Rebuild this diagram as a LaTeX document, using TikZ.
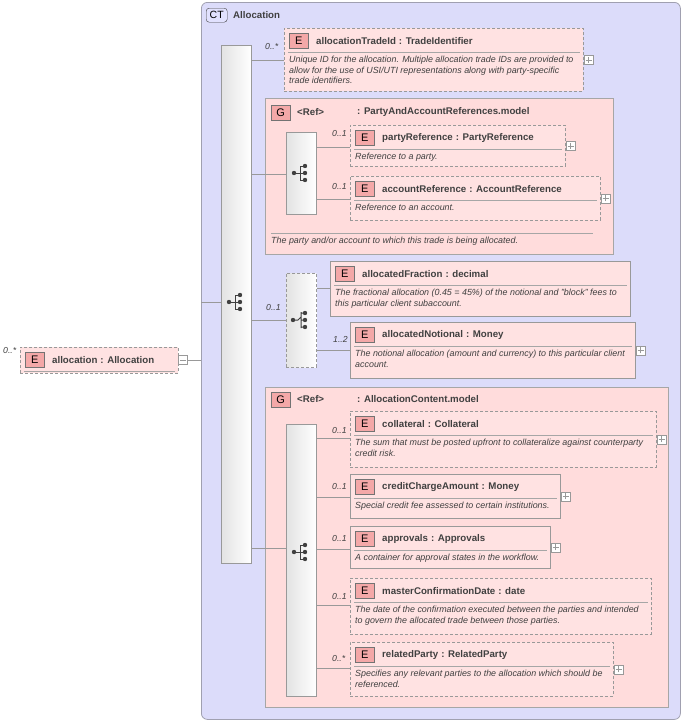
\documentclass[tikz,border=0pt]{standalone}
\usepackage{fontspec}
\setmainfont{Liberation Sans}
\begin{document}
\definecolor{ctfill}{HTML}{DCDCFA}
\definecolor{ctline}{HTML}{A0A0B0}
\definecolor{pinkf}{HTML}{FFE2E2}
\definecolor{grpf}{HTML}{FFDCDC}
\definecolor{badge}{HTML}{F4A8A8}
\definecolor{dgray}{HTML}{404040}
\tikzset{
 elbox/.style={draw=gray!80,fill=pinkf,inner sep=0pt,line width=0.7pt},
 dsh/.style={dashed,dash pattern=on 3pt off 2pt},
 sld/.style={},
 ebadge/.style={draw=gray!90!black,fill=badge,minimum width=19pt,minimum height=15pt,inner sep=0pt,font=\fontsize{11}{11}\selectfont},
 title/.style={font=\fontsize{9.7}{11}\selectfont\bfseries,text=dgray,inner sep=0pt},
 desc/.style={font=\fontsize{8.9}{10.5}\selectfont\itshape,text=dgray,inner sep=0pt,align=left},
 sep/.style={draw=gray!70,line width=0.5pt},
 conn/.style={draw=gray!80,line width=0.6pt},
 card/.style={font=\fontsize{8.7}{9}\selectfont\itshape,text=dgray,inner sep=0pt},
 bar/.style={draw=gray!80,left color=gray!22,right color=white,inner sep=0pt,line width=0.6pt},
 pm/.style={draw=gray!80,fill=white,minimum size=9pt,inner sep=0pt,line width=0.5pt},
}
\newcommand\elm[8]{%
 \node[elbox,#6,minimum width=#4pt,minimum height=#5pt,anchor=north west] (#1) at (#2,#3) {};
 \node[ebadge,anchor=north west] at ([xshift=5pt,yshift=-5pt]#1.north west) {E};
 \node[title,anchor=west] at ([xshift=32pt,yshift=-13pt]#1.north west) {#7};
 \draw[sep] ([xshift=4pt,yshift=-24pt]#1.north west) -- ([xshift=-4pt,yshift=-24pt]#1.north east);
 \node[desc,anchor=north west] at ([xshift=5pt,yshift=-28pt]#1.north west) {#8};}
\newcommand\plusbox[1]{\node[pm] (#1p) at ([xshift=5pt]#1.east) {};
 \draw[gray!80,line width=0.5pt] ([xshift=-3pt]#1p.center)--([xshift=3pt]#1p.center) ([yshift=-3pt]#1p.center)--([yshift=3pt]#1p.center);}
\newcommand\seqicon[1]{\begin{scope}[shift={(#1)},dgray]
 \fill (-7,0) circle (2.2pt); \draw[line width=1pt] (-7,0)--(-1,0) (-1,-7)--(-1,7) (-1,-7)--(4,-7) (-1,0)--(4,0) (-1,7)--(4,7);
 \fill (4,-7) circle (2.2pt) (4,0) circle (2.2pt) (4,7) circle (2.2pt);\end{scope}}
\newcommand\choiceicon[1]{\begin{scope}[shift={(#1)},dgray]
 \fill (-8,0) circle (2.2pt); \draw[line width=1pt] (-8,0)--(-3,0) (-3,0)--(0,-3) (0,-8)--(0,8) (0,-7)--(4,-7) (0,0)--(4,0) (0,7)--(4,7);
 \fill (4,-7) circle (2.2pt) (4,0) circle (2.2pt) (4,7) circle (2.2pt);\end{scope}}
\begin{tikzpicture}[x=1pt,y=-1pt]
\useasboundingbox (0,0) rectangle (684,723);
\node[draw=ctline,fill=ctfill,rounded corners=6pt,minimum width=479pt,minimum height=717pt,anchor=north west,line width=0.8pt] (ct) at (201,2) {};
\node[draw=dgray,fill=ctfill!70!blue!30,rounded corners=3pt,minimum width=21pt,minimum height=14pt,inner sep=0pt,anchor=north west,font=\fontsize{10.5}{11}\selectfont] (ctb) at (206,8) {CT};
\node[title,anchor=west] (ctt) at (233,15) {Allocation};
\node[card,anchor=west] (rc) at (3,350) {0..*};
\elm{root}{20}{347}{158}{26}{dsh}{allocation\hspace{3pt}: Allocation}{}
\node[pm] (rootm) at (183,360) {};
\draw[gray!80,line width=0.5pt] (180,360)--(186,360);
\draw[conn] (rootm.east) -- (ct.west|-rootm);
\node[bar,minimum width=30pt,minimum height=518pt,anchor=north west] (ms) at (221,45) {};
\seqicon{236,302}
\coordinate (msl) at (201,302);
\draw[conn] (msl) -- (ms.west|-msl);
\elm{e1}{284}{28}{299}{63}{dsh}{allocationTradeId\hspace{3pt}: TradeIdentifier}{Unique ID for the allocation. Multiple allocation trade IDs are provided to\\allow for the use of USI/UTI representations along with party-specific\\trade identifiers.}
\plusbox{e1}
\draw[conn] (ms.east|-0,60) -- (e1.west|-0,60);
\node[card,anchor=west] at (265,47) {0..*};
\node[draw=gray!70,fill=grpf,minimum width=348pt,minimum height=156pt,anchor=north west,inner sep=0pt] (g1) at (265,98) {};
\node[ebadge,anchor=north west] (g1b) at (271,105) {G};
\node[title,anchor=west] at (297,112) {<Ref>};
\node[title,anchor=west] at (357,112) {: PartyAndAccountReferences.model};
\draw[conn] (ms.east|-0,174) -- (g1.west|-0,174);
\node[bar,minimum width=30pt,minimum height=82pt,anchor=north west] (s1) at (286,132) {};
\seqicon{301,173}
\draw[conn] (g1.west|-0,174) -- (s1.west|-0,174);
\elm{e2}{350}{125}{215}{41}{dsh}{partyReference\hspace{3pt}: PartyReference}{Reference to a party.}
\plusbox{e2}
\draw[conn] (s1.east|-0,147) -- (e2.west|-0,147);
\node[card,anchor=west] at (332,134) {0..1};
\elm{e3}{350}{176}{250}{44}{dsh}{accountReference\hspace{3pt}: AccountReference}{Reference to an account.}
\plusbox{e3}
\draw[conn] (s1.east|-0,199) -- (e3.west|-0,199);
\node[card,anchor=west] at (332,187) {0..1};
\draw[sep] (271,233) -- (593,233);
\node[desc,anchor=west] at (271,241) {The party and/or account to which this trade is being allocated.};
\node[bar,dsh,minimum width=30pt,minimum height=94pt,anchor=north west] (ch) at (286,273) {};
\choiceicon{301,320}
\draw[conn] (ms.east|-0,320) -- (ch.west|-0,320);
\node[card,anchor=west] at (266,308) {0..1};
\elm{e4}{330}{261}{300}{55}{sld}{allocatedFraction\hspace{3pt}: decimal}{The fractional allocation (0.45 = 45\%) of the notional and "block" fees to\\this particular client subaccount.}
\draw[conn] (ch.east|-0,288) -- (e4.west|-0,288);
\elm{e5}{350}{322}{285}{56}{sld}{allocatedNotional\hspace{3pt}: Money}{The notional allocation (amount and currency) to this particular client\\account.}
\plusbox{e5}
\draw[conn] (ch.east|-0,350) -- (e5.west|-0,350);
\node[card,anchor=west] at (333,339) {1..2};
\node[draw=gray!70,fill=grpf,minimum width=403pt,minimum height=320pt,anchor=north west,inner sep=0pt] (g2) at (265,387) {};
\node[ebadge,anchor=north west] (g2b) at (271,392) {G};
\node[title,anchor=west] at (297,399) {<Ref>};
\node[title,anchor=west] at (357,399) {: AllocationContent.model};
\draw[conn] (ms.east|-0,548) -- (g2.west|-0,548);
\node[bar,minimum width=30pt,minimum height=272pt,anchor=north west] (s2) at (286,424) {};
\seqicon{301,552}
\draw[conn] (g2.west|-0,548) -- (s2.west|-0,548);
\elm{e6}{350}{411}{306}{56}{dsh}{collateral\hspace{3pt}: Collateral}{The sum that must be posted upfront to collateralize against counterparty\\credit risk.}
\plusbox{e6}
\draw[conn] (s2.east|-0,438) -- (e6.west|-0,438);
\node[card,anchor=west] at (332,430) {0..1};
\elm{e7}{350}{474}{210}{44}{sld}{creditChargeAmount\hspace{3pt}: Money}{Special credit fee assessed to certain institutions.}
\plusbox{e7}
\draw[conn] (s2.east|-0,497) -- (e7.west|-0,497);
\node[card,anchor=west] at (332,486) {0..1};
\elm{e8}{350}{526}{200}{42}{sld}{approvals\hspace{3pt}: Approvals}{A container for approval states in the workflow.}
\plusbox{e8}
\draw[conn] (s2.east|-0,549) -- (e8.west|-0,549);
\node[card,anchor=west] at (332,538) {0..1};
\elm{e9}{350}{578}{301}{56}{dsh}{masterConfirmationDate\hspace{3pt}: date}{The date of the confirmation executed between the parties and intended\\to govern the allocated trade between those parties.}
\draw[conn] (s2.east|-0,605) -- (e9.west|-0,605);
\node[card,anchor=west] at (332,596) {0..1};
\elm{e10}{350}{642}{263}{54}{dsh}{relatedParty\hspace{3pt}: RelatedParty}{Specifies any relevant parties to the allocation which should be\\referenced.}
\plusbox{e10}
\draw[conn] (s2.east|-0,668) -- (e10.west|-0,668);
\node[card,anchor=west] at (332,658) {0..*};
\end{tikzpicture}
\end{document}
